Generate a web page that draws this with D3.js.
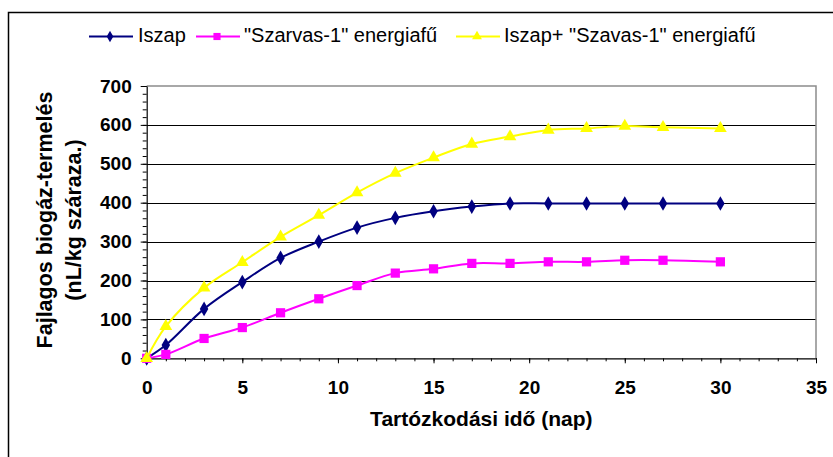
<!DOCTYPE html>
<html>
<head>
<meta charset="utf-8">
<script src="https://cdn.jsdelivr.net/npm/d3@7"></script>
<style>
  html, body { margin: 0; padding: 0; background: #fff; }
  svg { display: block; font-family: "Liberation Sans", Arial, sans-serif; }
</style>
</head>
<body>
<svg id="chart" width="833" height="457"></svg>
<script>
// Residence time (days) and specific biogas yield (nL/kg dry matter)
const days    = [0, 1, 3, 5, 7, 9, 11, 13, 15, 17, 19, 21, 23, 25, 27, 30];
const iszap   = [0, 34, 127, 196, 258, 300, 336, 361, 378, 390, 398, 398, 398, 398, 398, 398];
const szarvas = [0, 10, 51, 79, 117, 153, 187, 219, 230, 244, 244, 248, 248, 252, 252, 248];
const keverek = [0, 82, 181, 247, 312, 368, 426, 476, 516, 551, 570, 587, 591, 597, 594, 591];

const seriesNames = ["Iszap", "\"Szarvas-1\" energiafű", "Iszap+ \"Szavas-1\" energiafű"];
const xTicks = [0, 5, 10, 15, 20, 25, 30, 35];
const yTicks = [0, 100, 200, 300, 400, 500, 600, 700];
const xTitle = "Tartózkodási idő (nap)";
const yTitleLines = ["Fajlagos biogáz-termelés", "(nL/kg száraza.)"];

const series = [
  { name: seriesNames[0], values: iszap,   color: "#000080", marker: "diamond"  },
  { name: seriesNames[1], values: szarvas, color: "#FF00FF", marker: "square"   },
  { name: seriesNames[2], values: keverek, color: "#FFFF00", marker: "triangle" }
];

const svg = d3.select("#chart");
const plot = { left: 146.7, right: 816, top: 86, bottom: 358.3 };

const x = d3.scaleLinear().domain([0, 35]).range([plot.left, plot.right]);
const y = d3.scaleLinear().domain([0, 700]).range([plot.bottom, plot.top]);

// Outer chart frame
svg.append("rect")
  .attr("x", 8.5).attr("y", 12.5)
  .attr("width", 900).attr("height", 500)
  .attr("fill", "#fff").attr("stroke", "#000").attr("stroke-width", 1.5);

// Horizontal gridlines
svg.append("g")
  .selectAll("line")
  .data(yTicks.filter(v => v > 0 && v < 700))
  .join("line")
  .attr("x1", plot.left).attr("x2", plot.right)
  .attr("y1", d => Math.round(y(d)) + 0.5).attr("y2", d => Math.round(y(d)) + 0.5)
  .attr("stroke", "#000").attr("stroke-width", 1);

// Plot area border (top and right)
svg.append("path")
  .attr("d", `M${plot.left},${plot.top}H${plot.right}V${plot.bottom}`)
  .attr("fill", "none").attr("stroke", "#8c8c8c").attr("stroke-width", 1.5);

// X axis: minor ticks every day, major ticks with labels every 5
const xMinor = d3.range(0, 36);
svg.append("g")
  .attr("transform", `translate(0,${plot.bottom})`)
  .call(d3.axisBottom(x).tickValues(xMinor).tickSize(3).tickFormat(""))
  .call(g => g.select(".domain").remove())
  .call(g => g.selectAll("line").attr("stroke", "#000"));
svg.append("g")
  .attr("transform", `translate(0,${plot.bottom})`)
  .call(d3.axisBottom(x).tickValues(xTicks).tickSize(5).tickPadding(17).tickSizeOuter(0))
  .call(g => g.select(".domain").attr("stroke", "#000").attr("stroke-width", 1.2))
  .call(g => g.selectAll("line").attr("stroke", "#000"))
  .call(g => g.selectAll("text")
    .attr("font-family", "Liberation Sans, Arial, sans-serif")
    .attr("font-size", 19).attr("font-weight", "bold").attr("fill", "#000"));

// Y axis: minor ticks every 20, major ticks with labels every 100
const yMinor = d3.range(0, 701, 20);
svg.append("g")
  .attr("transform", `translate(${plot.left},0)`)
  .call(d3.axisLeft(y).tickValues(yMinor).tickSize(4).tickFormat(""))
  .call(g => g.select(".domain").remove())
  .call(g => g.selectAll("line").attr("stroke", "#000"));
svg.append("g")
  .attr("transform", `translate(${plot.left},0)`)
  .call(d3.axisLeft(y).tickValues(yTicks).tickSize(6).tickPadding(9).tickSizeOuter(0))
  .call(g => g.select(".domain").attr("stroke", "#000").attr("stroke-width", 1.2))
  .call(g => g.selectAll("line").attr("stroke", "#000"))
  .call(g => g.selectAll("text")
    .attr("font-family", "Liberation Sans, Arial, sans-serif")
    .attr("font-size", 19).attr("font-weight", "bold").attr("fill", "#000"));

// Axis titles
svg.append("text")
  .attr("x", (plot.left + plot.right) / 2).attr("y", 426)
  .attr("text-anchor", "middle")
  .attr("font-size", 21).attr("font-weight", "bold")
  .text(xTitle);

const yTitle = svg.append("text")
  .attr("transform", "translate(0,220) rotate(-90)")
  .attr("text-anchor", "middle")
  .attr("font-size", 21.5).attr("font-weight", "bold");
yTitle.selectAll("tspan")
  .data(yTitleLines)
  .join("tspan")
  .attr("x", 0)
  .attr("y", (d, i) => 52 + i * 29)
  .text(d => d);

// Marker symbols
const symbolType = {
  diamond: d3.symbolDiamond,
  square: d3.symbolSquare,
  triangle: d3.symbolTriangle
};
const symbolSize = { diamond: 62, square: 85, triangle: 70 };

const line = d3.line()
  .x((d, i) => x(days[i]))
  .y(d => y(d))
  .curve(d3.curveCatmullRom.alpha(0.5));

const layers = svg.append("g");
series.forEach(s => {
  const g = layers.append("g");
  g.append("path")
    .attr("d", line(s.values))
    .attr("fill", "none")
    .attr("stroke", s.color)
    .attr("stroke-width", 2);
  g.selectAll("path.mk")
    .data(s.values)
    .join("path")
    .attr("class", "mk")
    .attr("transform", (d, i) => `translate(${x(days[i])},${y(d)})`)
    .attr("d", d3.symbol(symbolType[s.marker], symbolSize[s.marker]))
    .attr("fill", s.color);
});

// Legend
const legendItems = [
  { lineX: 89,  textX: 138 },
  { lineX: 196, textX: 244 },
  { lineX: 456, textX: 504 }
];
const legend = svg.append("g");
series.forEach((s, i) => {
  const li = legendItems[i];
  const ly = 36.5;
  legend.append("line")
    .attr("x1", li.lineX).attr("x2", li.lineX + 44)
    .attr("y1", ly).attr("y2", ly)
    .attr("stroke", s.color).attr("stroke-width", 2);
  legend.append("path")
    .attr("transform", `translate(${li.lineX + 21},${ly})`)
    .attr("d", d3.symbol(symbolType[s.marker], symbolSize[s.marker] * 0.6))
    .attr("fill", s.color);
  legend.append("text")
    .attr("x", li.textX).attr("y", 42)
    .attr("font-size", 20)
    .text(s.name);
});
</script>
</body>
</html>
